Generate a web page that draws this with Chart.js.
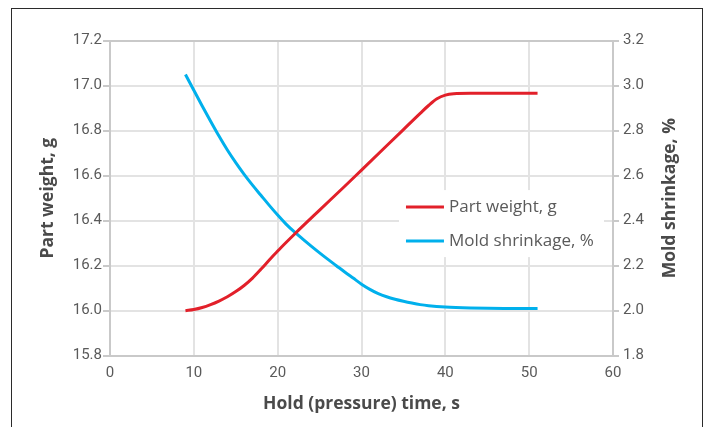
<!DOCTYPE html>
<html>
<head>
<meta charset="utf-8">
<script src="https://cdn.jsdelivr.net/npm/chart.js@4.4.1/dist/chart.umd.min.js"></script>
<style>
  html, body { margin: 0; padding: 0; background: #fff; }
  #wrap { position: relative; width: 711px; height: 427px; overflow: hidden; }
  #frame { position: absolute; left: 11px; top: 8px; width: 692px; height: 440px; border: 1.5px solid #2b2b2b; box-sizing: border-box; }
  canvas { position: absolute; left: 0; top: 0; }
</style>
</head>
<body>
<div id="wrap">
  <div id="frame"></div>
  <canvas id="chart" width="711" height="427"></canvas>
</div>
<script>
// hold time (s) vs part weight (g)
const weightTimes = [9, 10, 11, 12, 13, 14, 15, 16, 17, 18, 19, 20, 21, 22, 25, 28, 30, 33, 35, 37, 38, 39, 40, 41, 43, 47, 51];
const partWeight = [16.0, 16.005, 16.014, 16.027, 16.043, 16.062, 16.085, 16.112, 16.145, 16.184, 16.225, 16.265, 16.303, 16.34, 16.447, 16.553, 16.625, 16.733, 16.805, 16.877, 16.912, 16.942, 16.958, 16.964, 16.966, 16.966, 16.966];

// hold time (s) vs mold shrinkage (%)
const shrinkTimes = [9, 10, 11, 12, 13, 14, 15, 16, 17, 18, 19, 20, 21, 22, 23, 24, 25, 26, 27, 28, 29, 30, 31, 32, 33, 34, 35, 36, 37, 38, 40, 43, 47, 51];
const moldShrinkage = [3.05, 2.98, 2.91, 2.842, 2.776, 2.714, 2.658, 2.606, 2.558, 2.513, 2.468, 2.425, 2.385, 2.35, 2.318, 2.287, 2.257, 2.228, 2.2, 2.172, 2.145, 2.118, 2.095, 2.076, 2.062, 2.051, 2.042, 2.034, 2.027, 2.022, 2.016, 2.012, 2.01, 2.01];

const xTicks = { min: 0, max: 60, step: 10 };
const leftTicks = { min: 15.8, max: 17.2, step: 0.2 };
const rightTicks = { min: 1.8, max: 3.2, step: 0.2 };

const RED = "#e2202a";
const BLUE = "#00b0ec";
const GRID = "#e3e3e3";
const AXIS = "#c9c9c9";
const TICK_TXT = "#5a5a5a";
const TITLE_TXT = "#4a4a4a";
const tickFont = { family: "Roboto", size: 15 };
const titleFont = { family: "Open Sans", size: 17.5, weight: "bold" };
const rightTitle = "Mold shrinkage, %";

function toPoints(xs, ys) {
  return xs.map((x, i) => ({ x: x, y: ys[i] }));
}

// legend box sitting inside the plot, over the grid
const insideLegend = {
  id: "insideLegend",
  beforeDatasetsDraw(chart) {
    const ctx = chart.ctx;
    const x0 = chart.scales.x.getPixelForValue(34.47);
    const y0 = chart.scales.y.getPixelForValue(16.536);
    ctx.save();
    ctx.fillStyle = "#fff";
    ctx.fillRect(x0, y0, 205, 67);
    ctx.font = "17px 'Open Sans'";
    ctx.textBaseline = "middle";
    chart.data.datasets.forEach((ds, i) => {
      const yy = y0 + 17 + i * 34;
      ctx.strokeStyle = ds.borderColor;
      ctx.lineWidth = 3;
      ctx.beginPath();
      ctx.moveTo(x0 + 7, yy);
      ctx.lineTo(x0 + 45, yy);
      ctx.stroke();
      ctx.fillStyle = TICK_TXT;
      ctx.fillText(ds.label, x0 + 50, yy);
    });
    ctx.restore();
  },
  // right axis title reads bottom-to-top like the left one
  afterDraw(chart) {
    const ctx = chart.ctx;
    const a = chart.chartArea;
    ctx.save();
    ctx.translate(670, (a.top + a.bottom) / 2);
    ctx.rotate(-Math.PI / 2);
    ctx.font = "bold 17.5px 'Open Sans'";
    ctx.fillStyle = TITLE_TXT;
    ctx.textAlign = "center";
    ctx.textBaseline = "middle";
    ctx.fillText(rightTitle, 0, 0);
    ctx.restore();
  },
};

new Chart(document.getElementById("chart"), {
  type: "line",
  data: {
    datasets: [
      {
        label: "Part weight, g",
        data: toPoints(weightTimes, partWeight),
        borderColor: RED,
        backgroundColor: RED,
        borderWidth: 3,
        pointRadius: 0,
        cubicInterpolationMode: "monotone",
        yAxisID: "y",
      },
      {
        label: "Mold shrinkage, %",
        data: toPoints(shrinkTimes, moldShrinkage),
        borderColor: BLUE,
        backgroundColor: BLUE,
        borderWidth: 3,
        pointRadius: 0,
        cubicInterpolationMode: "monotone",
        yAxisID: "y1",
      },
    ],
  },
  options: {
    responsive: false,
    animation: false,
    layout: { padding: { top: 40.7, left: 0, right: 0, bottom: 0 } },
    plugins: { legend: { display: false }, tooltip: { enabled: false } },
    scales: {
      x: {
        type: "linear",
        min: xTicks.min,
        max: xTicks.max,
        ticks: { stepSize: xTicks.step, font: tickFont, color: TICK_TXT, padding: 9 },
        grid: {
          color: (c) => (c.tick && c.tick.value === xTicks.max ? AXIS : GRID),
          lineWidth: 2,
          drawTicks: false,
        },
        border: { color: AXIS, width: 2 },
        title: { display: true, text: "Hold (pressure) time, s", font: titleFont, color: TITLE_TXT, padding: { top: 0, bottom: 12 } },
        afterFit: (s) => { s.height = 71.3; },
      },
      y: {
        position: "left",
        min: leftTicks.min,
        max: leftTicks.max,
        ticks: { stepSize: leftTicks.step, font: tickFont, color: TICK_TXT, padding: 1, callback: (v) => v.toFixed(1) },
        grid: {
          color: (c) => (c.tick && Math.abs(c.tick.value - leftTicks.max) < 1e-6 ? AXIS : GRID),
          lineWidth: 2,
          tickLength: 7,
          tickColor: AXIS,
        },
        border: { color: AXIS, width: 2 },
        title: { display: true, text: "Part weight, g", font: titleFont, color: TITLE_TXT, padding: { top: 38, bottom: 0 } },
        afterFit: (s) => { s.width = 110; },
      },
      y1: {
        position: "right",
        min: rightTicks.min,
        max: rightTicks.max,
        ticks: { stepSize: rightTicks.step, font: tickFont, color: TICK_TXT, padding: 4, callback: (v) => v.toFixed(1) },
        grid: { drawOnChartArea: false, lineWidth: 2, tickLength: 6, tickColor: AXIS },
        border: { color: AXIS, width: 2 },
        afterFit: (s) => { s.width = 98; },
      },
    },
  },
  plugins: [insideLegend],
});
</script>
</body>
</html>
